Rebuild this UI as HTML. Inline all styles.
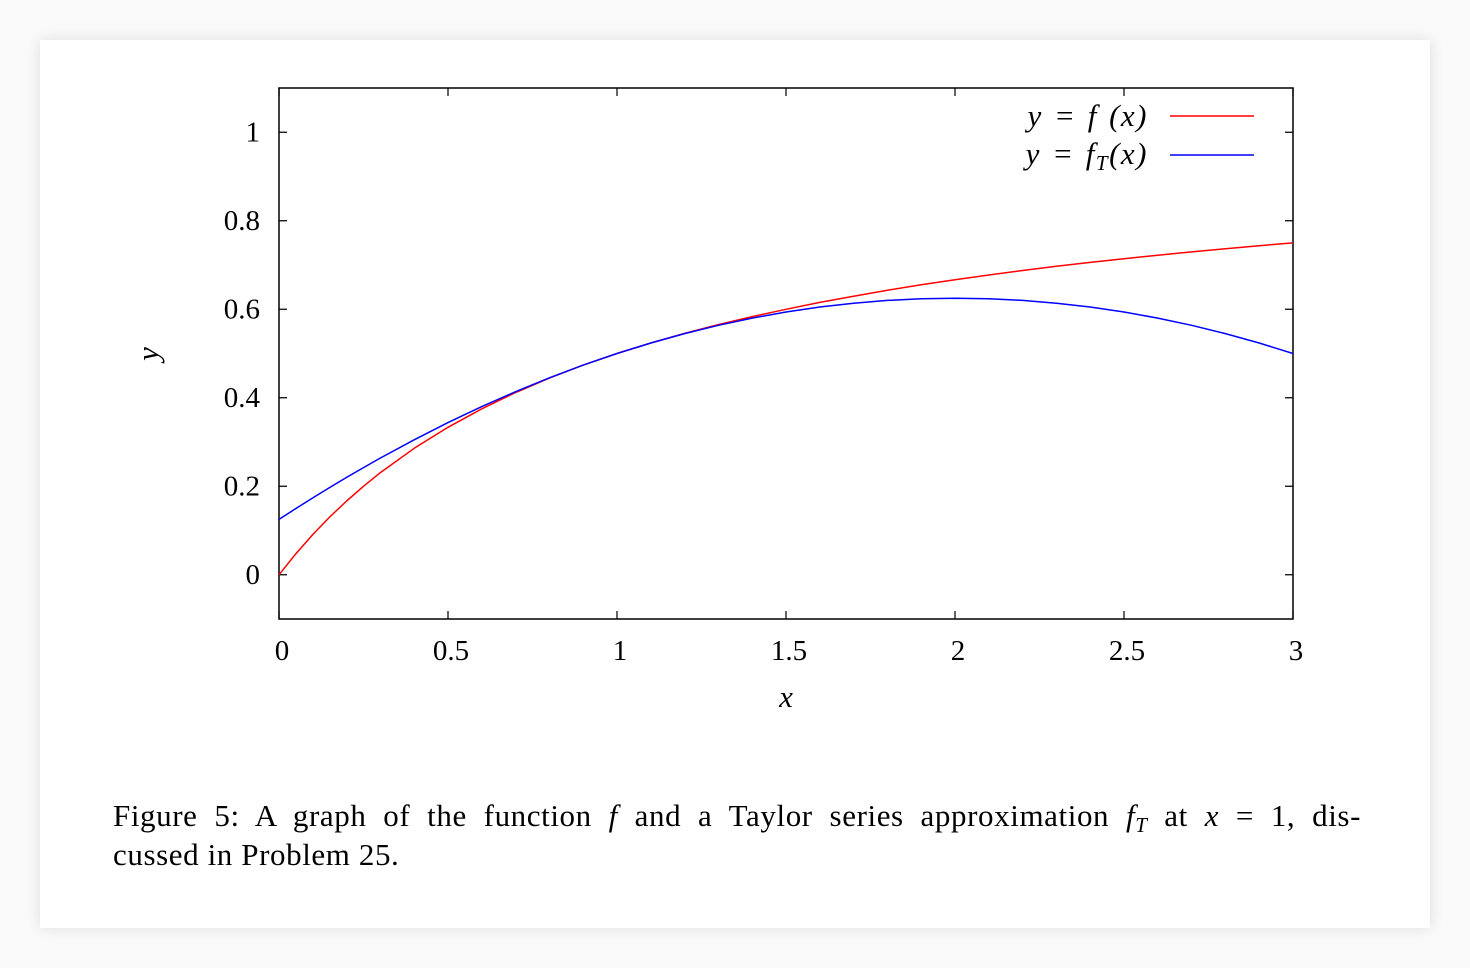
<!DOCTYPE html>
<html><head><meta charset="utf-8"><style>
html,body{margin:0;padding:0;background:#fafafa;width:1470px;height:968px;overflow:hidden}
.card{position:absolute;left:40px;top:40px;width:1390px;height:888px;background:#fff;box-shadow:0 0 14px rgba(0,0,0,0.12)}
svg{position:absolute;left:0;top:0}
text{font-family:"Liberation Serif",serif;fill:#000}
.cap{position:absolute;left:113px;width:1248px;font-family:"Liberation Serif",serif;font-size:31px;line-height:39px;color:#000;white-space:nowrap;letter-spacing:0.6px}
.l1{top:796px;text-align:justify;text-align-last:justify}
.l2{top:835px}
</style></head><body>
<div class="card"></div>
<svg id="chart" width="1470" height="968"></svg>
<div class="cap l1">Figure 5: A graph of the function <i>f</i> and a Taylor series approximation <i>f</i><i style="font-size:21px;position:relative;top:6px">T</i> at <i>x</i> = 1, dis-</div>
<div class="cap l2">cussed in Problem 25.</div>
<script>
const xs=[0,0.05,0.1,0.15,0.2,0.25,0.3,0.4,0.5,0.6,0.7,0.8,0.9,1,1.1,1.2,1.3,1.4,1.5,1.6,1.7,1.8,1.9,2,2.1,2.2,2.3,2.4,2.5,2.6,2.7,2.8,2.9,3];
const fVals=[0,0.0476,0.0909,0.1304,0.1667,0.2,0.2308,0.2857,0.3333,0.375,0.4118,0.4444,0.4737,0.5,0.5238,0.5455,0.5652,0.5833,0.6,0.6154,0.6296,0.6429,0.6552,0.6667,0.6774,0.6875,0.697,0.7059,0.7143,0.7222,0.7297,0.7368,0.7436,0.75];
const tVals=[0.125,0.1497,0.17375,0.1972,0.22,0.2422,0.26375,0.305,0.34375,0.38,0.41375,0.445,0.47375,0.5,0.52375,0.545,0.56375,0.58,0.59375,0.605,0.61375,0.62,0.62375,0.625,0.62375,0.62,0.61375,0.605,0.59375,0.58,0.56375,0.545,0.52375,0.5];
const xTicks=[0,0.5,1,1.5,2,2.5,3];
const xTickLabels=["0","0.5","1","1.5","2","2.5","3"];
const yTicks=[0,0.2,0.4,0.6,0.8,1];
const yTickLabels=["0","0.2","0.4","0.6","0.8","1"];
const L=279,R=1293,T=88,B=619;
const X=v=>L+(v-0)/3*(R-L);
const Y=v=>B-(v+0.1)/1.2*(B-T);
const svg=document.getElementById('chart');
const NS='http://www.w3.org/2000/svg';
function mk(tag,attrs,parent){const e=document.createElementNS(NS,tag);for(const k in attrs)e.setAttribute(k,attrs[k]);(parent||svg).appendChild(e);return e;}
let e;
e=mk('rect',{x:L,y:T,width:R-L,height:B-T,fill:'none',stroke:'#000','stroke-width':1.5});


xTicks.forEach((v,i)=>{
  e=mk('path',{d:`M${X(v)},${B}v-8M${X(v)},${T}v8`,stroke:'#000','stroke-width':1.2});
  
  
  e=mk('text',{x:X(v)+3,y:660,'font-size':29,'text-anchor':'middle'});e.textContent=xTickLabels[i];
  
  
});
yTicks.forEach((v,i)=>{
  e=mk('path',{d:`M${L},${Y(v)}h8M${R},${Y(v)}h-8`,stroke:'#000','stroke-width':1.2});
  
  
  e=mk('text',{x:260,y:Y(v)+9,'font-size':29,'text-anchor':'end'});e.textContent=yTickLabels[i];
  
  
});
e=mk('text',{x:786,y:707,'font-size':31,'font-style':'italic','text-anchor':'middle'});e.textContent='x';


e=mk('text',{x:0,y:0,'font-size':31,'font-style':'italic','text-anchor':'middle',transform:'translate(158,354) rotate(-90)'});e.textContent='y';


function line(vals,color,name){
  const d=xs.map((x,i)=>(i?'L':'M')+X(x).toFixed(1)+','+Y(vals[i]).toFixed(1)).join('');
  const p=mk('path',{d,fill:'none',stroke:color,'stroke-width':1.5,'stroke-linejoin':'round'});
  
  
}
line(fVals,'#f00','series-f');
line(tVals,'#00f','series-taylor');
e=mk('text',{x:1148,y:126,'font-size':31,'font-style':'italic','text-anchor':'end','word-spacing':'2','letter-spacing':'1.5'});e.textContent='y = f (x)';


e=mk('line',{x1:1170,x2:1254,y1:116,y2:116,stroke:'#f00','stroke-width':1.5});


e=mk('text',{x:1148,y:164,'font-size':31,'font-style':'italic','text-anchor':'end','word-spacing':'2','letter-spacing':'1.5'});
e.innerHTML='y = f<tspan font-size="21" dy="6">T</tspan><tspan dy="-6">(x)</tspan>';


e=mk('line',{x1:1170,x2:1254,y1:155,y2:155,stroke:'#00f','stroke-width':1.5});


</script>
</body></html>
